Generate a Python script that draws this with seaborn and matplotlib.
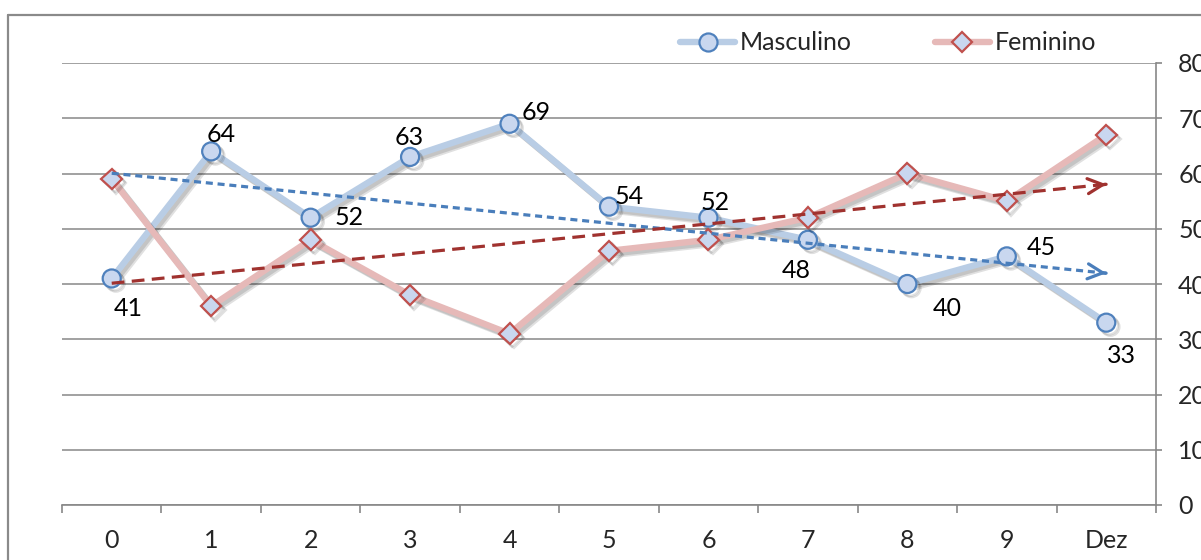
import numpy as np
import pandas as pd
import matplotlib
matplotlib.use("Agg")
import matplotlib.pyplot as plt
import matplotlib.patheffects as pe
from matplotlib.lines import Line2D
import seaborn as sns

# --- data -------------------------------------------------------------
categories = ["0", "1", "2", "3", "4", "5", "6", "7", "8", "9", "Dez"]
masculino = [41, 64, 52, 63, 69, 54, 52, 48, 40, 45, 33]
feminino = [59, 36, 48, 38, 31, 46, 48, 52, 60, 55, 67]
y_ticks = [0, 10, 20, 30, 40, 50, 60, 70, 80]

# label offsets (pixels) for the Masculino value labels
label_offsets = [(17, -30), (10, 17), (38, 0), (-1, 19), (27, 11), (20, 10),
                 (7, 15), (-12, -31), (40, -24), (34, 9), (15, -33)]

sns.set_theme(style="white")
plt.rcParams["font.family"] = ["Lato", "DejaVu Sans"]
FS = 18

GRID = "#878787"
BLUE_LINE = "#b9cde5"
PINK_LINE = "#e6b9b8"
BLUE_EDGE = "#4f81bd"
RED_EDGE = "#c0504d"
FACE = "#c9d7ef"
TREND_BLUE = "#4a7ebb"
TREND_RED = "#a0322f"

fig = plt.figure(figsize=(12.01, 5.6), dpi=100)
ax = fig.add_axes([62 / 1201, 55 / 560, (1156 - 62) / 1201, (505 - 63) / 560])

df = pd.DataFrame({"x": np.arange(len(categories)),
                   "Masculino": masculino, "Feminino": feminino})

shadow = [pe.SimpleLineShadow(offset=(3, -3), shadow_color="#000000", alpha=0.12),
          pe.SimpleLineShadow(offset=(2, -2), shadow_color="#000000", alpha=0.12),
          pe.Normal()]

sns.lineplot(data=df, x="x", y="Masculino", ax=ax, color=BLUE_LINE, lw=4.6,
             marker="o", markersize=13, markerfacecolor=FACE,
             markeredgecolor=BLUE_EDGE, markeredgewidth=1.6,
             path_effects=shadow, zorder=3, legend=False)
sns.lineplot(data=df, x="x", y="Feminino", ax=ax, color=PINK_LINE, lw=4.6,
             marker="D", markersize=10.5, markerfacecolor=FACE,
             markeredgecolor=RED_EDGE, markeredgewidth=1.6,
             path_effects=shadow, zorder=4, legend=False)

# linear trend lines with arrowheads
for col, color, dash in [("Masculino", TREND_BLUE, (2.2, 1.5)),
                         ("Feminino", TREND_RED, (4.0, 2.3))]:
    sns.regplot(data=df, x="x", y=col, ax=ax, scatter=False, ci=None,
                truncate=True,
                line_kws=dict(color=color, lw=2.3, dashes=dash, zorder=6))
    line = ax.lines[-1]
    xy = line.get_xydata()
    x1, y1 = xy[-1]
    x0, y0 = xy[-2]
    t = 0.985
    ax.annotate("", xy=(x1, y1), xytext=(x0 + (x1 - x0) * t, y0 + (y1 - y0) * t),
                arrowprops=dict(arrowstyle="->,head_length=0.9,head_width=0.45",
                                color=color, lw=2.3, shrinkA=0, shrinkB=0),
                zorder=7)

# value labels for Masculino
for i, (v, (dx, dy)) in enumerate(zip(masculino, label_offsets)):
    ax.annotate(str(v), (i, v), xytext=(dx, dy), textcoords="offset pixels",
                ha="center", va="center", fontsize=FS, color="black", zorder=8)

# axes
ax.set_xlim(-0.5, len(categories) - 0.5)
ax.set_ylim(0, 80)
ax.set_xlabel("")
ax.set_ylabel("")
ax.set_xticks(range(len(categories)))
ax.set_xticklabels(categories)
ax.set_xticks(np.arange(-0.5, len(categories)), minor=True)
ax.tick_params(axis="x", which="major", length=0, pad=17, labelsize=FS)
ax.tick_params(axis="x", which="minor", length=5.5, width=1.2, color=GRID,
               direction="out", bottom=True)
ax.yaxis.tick_right()
ax.set_yticks(y_ticks)
ax.tick_params(axis="y", which="major", length=4, width=1.2, color=GRID,
               direction="out", right=True, pad=12, labelsize=FS)
ax.grid(axis="y", color=GRID, lw=1.1)
ax.grid(axis="x", visible=False)
for s in ["left", "top"]:
    ax.spines[s].set_visible(False)
for s in ["bottom", "right"]:
    ax.spines[s].set_color(GRID)
    ax.spines[s].set_linewidth(1.2)
ax.set_axisbelow(True)

# legend above the plot
handles = [Line2D([], [], color=BLUE_LINE, lw=4.6, marker="o", markersize=13,
                  markerfacecolor=FACE, markeredgecolor=BLUE_EDGE,
                  markeredgewidth=1.6),
           Line2D([], [], color=PINK_LINE, lw=4.6, marker="D", markersize=10.5,
                  markerfacecolor=FACE, markeredgecolor=RED_EDGE,
                  markeredgewidth=1.6)]
fig.legend(handles, ["Masculino", "Feminino"], loc="center left",
           bbox_to_anchor=(680 / 1201, 1 - 43 / 560), ncol=2, frameon=False,
           fontsize=FS, handlelength=2.2, handletextpad=0.2,
           columnspacing=3.3, borderpad=0, borderaxespad=0)

# chart frame
fig.add_artist(Line2D([7.5 / 1201, 7.5 / 1201], [1 - 15 / 560, -0.1],
                      transform=fig.transFigure, color="#8a8a8a", lw=1.6))
fig.add_artist(Line2D([7.5 / 1201, 1.1], [1 - 15 / 560, 1 - 15 / 560],
                      transform=fig.transFigure, color="#8a8a8a", lw=1.6))

fig.savefig("out.png", dpi=100)
